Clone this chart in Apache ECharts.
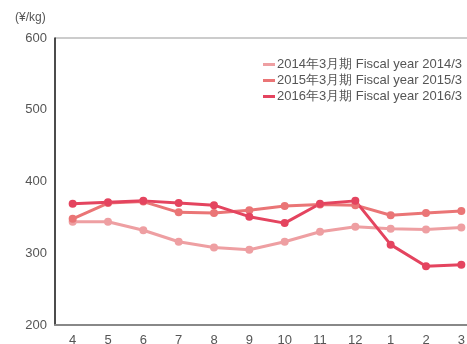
<!DOCTYPE html>
<html>
<head>
<meta charset="utf-8">
<script src="https://cdn.jsdelivr.net/npm/echarts@6/dist/echarts.min.js"></script>
<style>
html,body{margin:0;padding:0;background:#fff;}
#chart{width:467px;height:344px;}
</style>
</head>
<body>
<div id="chart"></div>
<script>
// Monthly unit price (¥/kg), April through March of each fiscal year
const months = ['4','5','6','7','8','9','10','11','12','1','2','3'];
const fy2014 = [344, 344, 332, 316, 308, 305, 316, 330, 337, 334, 333, 336];
const fy2015 = [348, 370, 372, 357, 356, 360, 366, 368, 367, 353, 356, 359];
const fy2016 = [369, 371, 373, 370, 367, 351, 342, 369, 373, 312, 282, 284];
const seriesNames = [
  '2014年3月期 Fiscal year 2014/3',
  '2015年3月期 Fiscal year 2015/3',
  '2016年3月期 Fiscal year 2016/3'
];
const yTicks = { min: 200, max: 600, step: 100 };
const colors = ['#ee9fa2', '#ea7576', '#e4445f'];

const chart = echarts.init(document.getElementById('chart'), null, { renderer: 'canvas' });
const font = '"Liberation Sans", Arial, sans-serif';

function lineSeries(name, data, color) {
  return {
    name: name,
    type: 'line',
    data: data,
    symbol: 'circle',
    symbolSize: 8,
    lineStyle: { width: 3, color: color },
    itemStyle: { color: color },
    emphasis: { disabled: true }
  };
}

chart.setOption({
  animation: false,
  backgroundColor: '#fff',
  textStyle: { fontFamily: font },
  title: {
    text: '(¥/kg)',
    left: 10,
    top: 7,
    textStyle: { fontSize: 12, fontWeight: 'normal', color: '#555', fontFamily: font }
  },
  legend: {
    orient: 'vertical',
    right: 0,
    top: 53,
    itemWidth: 12,
    itemHeight: 3,
    itemGap: 3,
    icon: 'rect',
    textStyle: { fontSize: 13, color: '#555', fontFamily: font, padding: [0, 0, 0, -3] },
    data: seriesNames
  },
  grid: {
    left: 55,
    top: 38,
    right: -12,
    height: 287,
    outerBoundsMode: 'none',
    show: true,
    borderColor: '#999',
    borderWidth: 1,
    backgroundColor: 'transparent'
  },
  xAxis: {
    type: 'category',
    data: months,
    boundaryGap: true,
    axisLine: { lineStyle: { color: '#888', width: 2 } },
    axisTick: { show: false },
    axisLabel: { color: '#555', fontSize: 13, margin: 9, fontFamily: font }
  },
  yAxis: {
    type: 'value',
    min: yTicks.min,
    max: yTicks.max,
    interval: yTicks.step,
    axisLine: { show: true, lineStyle: { color: '#222', width: 1.5 } },
    axisTick: { show: false },
    splitLine: { show: false },
    axisLabel: { color: '#555', fontSize: 13, margin: 8, fontFamily: font }
  },
  series: [
    lineSeries(seriesNames[0], fy2014, colors[0]),
    lineSeries(seriesNames[1], fy2015, colors[1]),
    lineSeries(seriesNames[2], fy2016, colors[2])
  ]
});
</script>
</body>
</html>
